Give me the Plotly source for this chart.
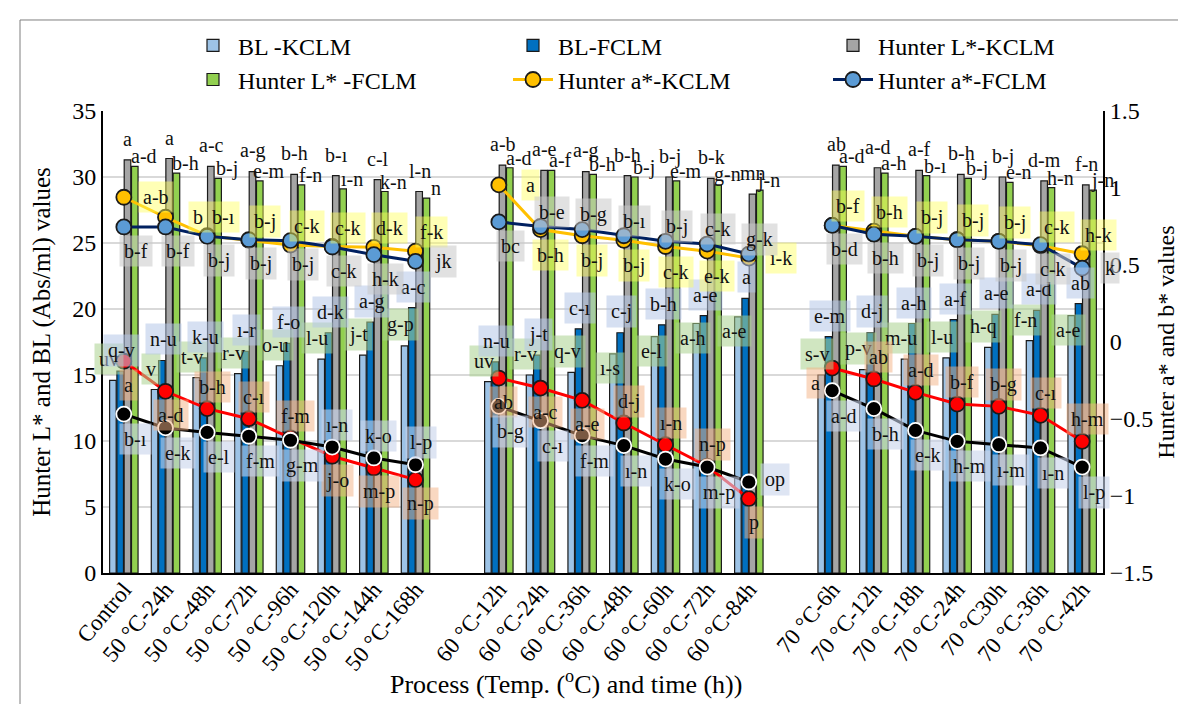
import plotly.graph_objects as go

# ---------------- data ----------------
categories = ["Control", "50 °C-24h", "50 °C-48h", "50 °C-72h", "50 °C-96h", "50 °C-120h", "50 °C-144h", "50 °C-168h",
              "60 °C-12h", "60 °C-24h", "60 °C-36h", "60 °C-48h", "60 °C-60h", "60 °C-72h", "60 °C-84h",
              "70 °C-6h", "70 °C-12h", "70 °C-18h", "70 °C-24h", "70 °C30h", "70 °C-36h", "70 °C-42h"]
group_sizes = [8, 7, 7]

bl_kclm = [14.6, 13.9, 14.8, 15.1, 15.7, 16.2, 16.5, 17.2,
           14.5, 15.0, 15.2, 16.6, 17.9, 18.9, 19.4,
           15.0, 15.4, 16.2, 16.3, 17.1, 17.6, 19.5]
bl_fclm = [15.3, 16.1, 16.3, 16.8, 17.4, 18.2, 19.0, 20.1,
           16.0, 16.5, 18.5, 18.2, 18.8, 19.5, 20.8,
           17.9, 18.2, 18.9, 19.2, 19.6, 19.9, 20.4]
l_kclm = [31.3, 31.4, 30.8, 30.4, 30.2, 30.1, 29.8, 28.9,
          30.9, 30.5, 30.4, 30.1, 30.0, 29.9, 28.7,
          30.9, 30.7, 30.5, 30.2, 30.0, 29.7, 29.4]
l_fclm = [30.8, 30.3, 29.9, 29.7, 29.4, 29.1, 28.9, 28.4,
          30.7, 30.5, 30.2, 30.0, 29.7, 29.4, 29.0,
          30.8, 30.3, 30.1, 29.9, 29.6, 29.2, 29.0]
a_kclm = [0.94, 0.81, 0.69, 0.66, 0.63, 0.62, 0.615, 0.59,
          1.02, 0.73, 0.69, 0.66, 0.62, 0.59, 0.545,
          0.757, 0.72, 0.686, 0.664, 0.654, 0.625, 0.573]
a_fclm = [0.747, 0.747, 0.686, 0.664, 0.658, 0.617, 0.567, 0.524,
          0.78, 0.75, 0.73, 0.69, 0.654, 0.636, 0.571,
          0.757, 0.70, 0.686, 0.664, 0.654, 0.632, 0.48]
b_kclm = [-0.125, -0.32, -0.433, -0.498, -0.623, -0.742, -0.818, -0.894,
          -0.234, -0.299, -0.379, -0.526, -0.667, -0.807, -1.017,
          -0.169, -0.24, -0.327, -0.403, -0.418, -0.476, -0.645]
b_fclm = [-0.468, -0.558, -0.587, -0.612, -0.638, -0.682, -0.753, -0.797,
          -0.418, -0.511, -0.608, -0.673, -0.76, -0.812, -0.909,
          -0.316, -0.433, -0.574, -0.645, -0.667, -0.688, -0.812]

# significance letters
lbl_bl_k = ["uv", "v", "t-v", "r-v", "o-u", "l-u", "j-t", "g-p",
            "uv", "r-v", "q-v", "ı-s", "e-l", "a-h", "a-e",
            "s-v", "p-v", "m-u", "l-u", "h-q", "f-n", "a-e"]
lbl_bl_f = ["q-v", "n-u", "k-u", "ı-r", "f-o", "d-k", "a-g", "a-c",
            "n-u", "j-t", "c-ı", "c-j", "b-h", "a-e", "a",
            "e-m", "d-j", "a-h", "a-f", "a-e", "a-d", "ab"]
lbl_l_k = ["a", "a", "a-c", "a-g", "b-h", "b-ı", "c-l", "l-n",
           "a-b", "a-e", "a-g", "b-h", "b-j", "b-k", "mn",
           "ab", "a-d", "a-f", "b-h", "b-j", "d-m", "f-n"]
lbl_l_f = ["a-d", "b-h", "b-j", "e-m", "f-n", "ı-n", "k-n", "n",
           "a-d", "a-f", "b-h", "b-j", "e-m", "g-n", "j-n",
           "a-d", "a-h", "b-ı", "b-j", "e-n", "h-n", "j-n"]
lbl_a_k = ["a-b", "b", "b-ı", "b-j", "c-k", "c-k", "d-k", "f-k",
           "a", "b-h", "b-j", "b-j", "c-k", "e-k", "ı-k",
           "b-f", "b-h", "b-j", "b-j", "b-j", "c-k", "h-k"]
lbl_a_f = ["b-f", "b-f", "b-j", "b-j", "b-j", "c-k", "h-k", "jk",
           "bc", "b-e", "b-g", "b-ı", "b-j", "c-k", "g-k",
           "b-d", "b-h", "b-j", "b-j", "b-j", "c-k", "k"]
lbl_b_k = ["a", "a-d", "b-h", "c-ı", "f-m", "j-o", "m-p", "n-p",
           "ab", "a-c", "a-e", "d-j", "ı-n", "n-p", "p",
           "a", "ab", "a-d", "b-f", "b-g", "c-ı", "h-m"]
lbl_b_f = ["b-ı", "e-k", "e-l", "f-m", "g-m", "ı-n", "k-o", "l-p",
           "b-g", "c-ı", "f-m", "ı-n", "k-o", "m-p", "op",
           "a-d", "b-h", "e-k", "h-m", "ı-m", "ı-n", "l-p"]

# ---------------- label placement (style) ----------------
pos_a_k = ["r", "r", "u", "u", "u", "u", "u", "u", "r", "d", "d", "d", "d", "d", "r", "u", "u", "u", "u", "u", "u", "u"]
pos_a_f = ["d"] * 7 + ["r"] + ["d", "u", "u", "u", "u", "u", "u"] + ["d"] * 6 + ["r"]
pos_b_k = ["d", "d", "u", "u", "u", "d", "d", "d", "d", "d", "d", "u", "u", "u", "d", "l", "u", "u", "u", "u", "u", "u"]
pos_b_f = ["d"] * 5 + ["u"] * 3 + ["d"] * 6 + ["r"] + ["d"] * 7
pos_bl_k = ["u"] * 8 + ["u", "u", "u", "d", "d", "d", "d"] + ["u"] * 6 + ["d"]
pos_bl_f = ["u"] * 22
pos_l = ["u"] * 22

FONT = "Liberation Serif, Times New Roman, serif"

# build x with gap categories between groups
gap_names = [" ", "  "]
x_all = []
idx_map = []
k = 0
for g, n in enumerate(group_sizes):
    for i in range(n):
        x_all.append(categories[k])
        idx_map.append(k)
        k += 1
    if g < len(group_sizes) - 1:
        x_all.append(gap_names[g])
        idx_map.append(None)


def spread(vals):
    return [None if j is None else vals[j] for j in idx_map]


fig = go.Figure()

bar_specs = [
    ("BL -KCLM", bl_kclm, "#9DC3E6"),
    ("BL-FCLM", bl_fclm, "#0070C0"),
    ("Hunter L*-KCLM", l_kclm, "#A5A5A5"),
    ("Hunter L* -FCLM", l_fclm, "#92D050"),
]
for name, vals, col in bar_specs:
    fig.add_trace(go.Bar(x=x_all, y=spread(vals), name=name, marker=dict(color=col, line=dict(color="#1a1a1a", width=1.2)),
                         yaxis="y"))

line_specs = [
    ("Hunter a*-KCLM", a_kclm, "#FFC000", "#FFC000", "#1a1a1a", True),
    ("Hunter a*-FCLM", a_fclm, "#002060", "#5B9BD5", "#1a1a1a", True),
    ("Hunter b*-KCLM", b_kclm, "#FF0000", "#FF0000", "#1a1a1a", False),
    ("Hunter b*-FCLM", b_fclm, "#000000", "#000000", "#FFFFFF", False),
]
for name, vals, lc, mc, mlc, show in line_specs:
    fig.add_trace(go.Scatter(x=x_all, y=spread(vals), name=name, yaxis="y2", mode="lines+markers",
                             line=dict(color=lc, width=3), connectgaps=False, showlegend=show,
                             marker=dict(size=15, color=mc, line=dict(color=mlc, width=1.8))))

# ---------------- annotations ----------------
annots = []


def add_labels(labels, vals, poss, yref, bg, offs):
    for i, (t, v, p) in enumerate(zip(labels, vals, poss)):
        dx, dy = offs[p]
        a = dict(x=categories[i], y=v, xref="x", yref=yref, text=t, showarrow=False,
                 xshift=dx, yshift=dy, font=dict(family=FONT, size=20, color="#111111"))
        if bg:
            a.update(bgcolor=bg, borderpad=4)
        annots.append(a)


add_labels(lbl_l_k, l_kclm, pos_l, "y", None, {"u": (4, 21)})
add_labels(lbl_l_f, l_fclm, pos_l, "y", None, {"u": (20, 10)})
add_labels(lbl_bl_k, bl_kclm, pos_bl_k, "y", "rgba(169,209,142,0.55)", {"u": (-15, 21), "d": (-14, -14)})
add_labels(lbl_bl_f, bl_fclm, pos_bl_f, "y", "rgba(180,199,231,0.55)", {"u": (-2, 21)})
add_labels(lbl_a_k, a_kclm, pos_a_k, "y2", "rgba(255,255,90,0.45)", {"u": (16, 19), "d": (10, -25), "r": (32, 0)})
add_labels(lbl_a_f, a_fclm, pos_a_f, "y2", "rgba(200,200,200,0.55)", {"u": (11, 15), "d": (12, -24), "r": (28, 0)})
add_labels(lbl_b_k, b_kclm, pos_b_k, "y2", "rgba(244,177,131,0.5)", {"u": (5, 22), "d": (5, -24), "l": (-17, -15)})
add_labels(lbl_b_f, b_fclm, pos_b_f, "y2", "rgba(200,212,235,0.6)", {"u": (5, 22), "d": (12, -25), "r": (26, 2)})

# x-axis title as paper annotation
annots.append(dict(text="Process (Temp. (<sup>o</sup>C) and time (h))", xref="paper", yref="paper",
                   x=0.463, y=-0.238, xanchor="center", yanchor="middle", showarrow=False,
                   font=dict(family=FONT, size=26, color="#000000")))

fig.update_layout(
    width=1186, height=704,
    margin=dict(l=95, r=91, t=103, b=139, autoexpand=False),
    paper_bgcolor="white", plot_bgcolor="white",
    font=dict(family=FONT, size=24, color="#000000"),
    barmode="group", bargap=0.3, bargroupgap=0.1,
    annotations=annots,
    legend=dict(orientation="h", x=0.085, y=1.19, xanchor="left", yanchor="top",
                entrywidth=265, entrywidthmode="pixels", font=dict(family=FONT, size=24),
                itemwidth=40, tracegroupgap=0, bgcolor="rgba(0,0,0,0)"),
    xaxis=dict(type="category", categoryorder="array", categoryarray=x_all, range=[-0.5, len(x_all) - 0.5],
               tickangle=-50, tickfont=dict(family=FONT, size=23), ticklabelstandoff=-8,
               showline=True, linecolor="#000000", linewidth=2,
               ticks="", showgrid=False, automargin=False),
    yaxis=dict(range=[0, 35], dtick=5, showline=True, linecolor="#000000", linewidth=2, ticks="",
               showgrid=True, gridcolor="#D9D9D9", gridwidth=1.5, zeroline=False, automargin=False,
               tickfont=dict(family=FONT, size=24),
               title=dict(text="Hunter L* and BL (Abs/ml) values", font=dict(family=FONT, size=25), standoff=14)),
    yaxis2=dict(range=[-1.5, 1.5], dtick=0.5, overlaying="y", side="right", showline=True, linecolor="#000000",
                linewidth=2, ticks="", showgrid=False, zeroline=False, automargin=False,
                tickfont=dict(family=FONT, size=24),
                title=dict(text="Hunter a* and b* values", font=dict(family=FONT, size=24), standoff=4)),
    shapes=[dict(type="rect", xref="paper", yref="paper", x0=-0.083, x1=1.085, y0=-0.292, y1=1.197,
                 line=dict(color="#7F7F7F", width=1), fillcolor="rgba(0,0,0,0)", layer="below")],
)

fig.write_html("out.html")
